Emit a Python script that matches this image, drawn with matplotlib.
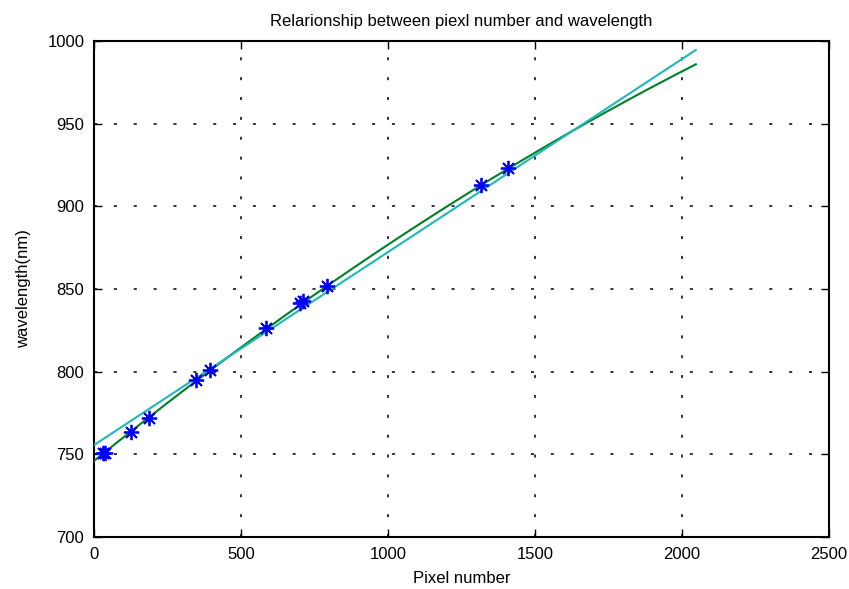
import numpy as np
import matplotlib
matplotlib.use("Agg")
import matplotlib.pyplot as plt

# Calibration points: detector pixel vs. known wavelength (nm)
pixel = [32, 38, 125, 188, 347, 395, 585, 702, 712, 794, 1315, 1407]
wavelength = [750.6, 751.0, 763.3, 772.0, 795.0, 801.0, 826.6, 841.5, 842.6, 852.0, 912.9, 923.0]

# Calibration curves (polynomial coefficients, highest power first)
quad_coeffs = [-1.301e-5, 0.14383, 746.0]
lin_coeffs = [0.11675, 755.6]
n_pixels = 2048

xticks = [0, 500, 1000, 1500, 2000, 2500]
yticks = [700, 750, 800, 850, 900, 950, 1000]

plt.rcParams['font.family'] = ['Liberation Sans', 'DejaVu Sans']

fig = plt.figure(figsize=(8.49, 5.89), dpi=100)
ax = fig.add_axes([94 / 849, 52 / 589, 735 / 849, 496 / 589])

px = np.arange(n_pixels)
ax.plot(px, np.polyval(quad_coeffs, px), color='#007f2a', lw=1.5, zorder=3)
ax.plot(px, np.polyval(lin_coeffs, px), color='#1fb8b8', lw=1.5, zorder=3)
ax.plot(pixel, wavelength, linestyle='none', marker=(8, 2, 0), markersize=11,
        markeredgewidth=1.3, color='#0000ff', zorder=4)

ax.set_xlim(0, 2500)
ax.set_ylim(700, 1000)
ax.set_xticks(xticks)
ax.set_yticks(yticks)
ax.tick_params(direction='in', length=6, width=1, top=True, right=True,
               labelsize=12, pad=7)
ax.grid(True, color='black', linestyle=(0, (2, 11)), linewidth=1.1)
for s in ax.spines.values():
    s.set_linewidth(1.5)

ax.set_title('Relarionship between piexl number and wavelength', fontsize=12, pad=11)
ax.set_xlabel('Pixel number', fontsize=12, labelpad=7)
ax.set_ylabel('wavelength(nm)', fontsize=12, labelpad=12)

fig.savefig('out.png', dpi=100)
